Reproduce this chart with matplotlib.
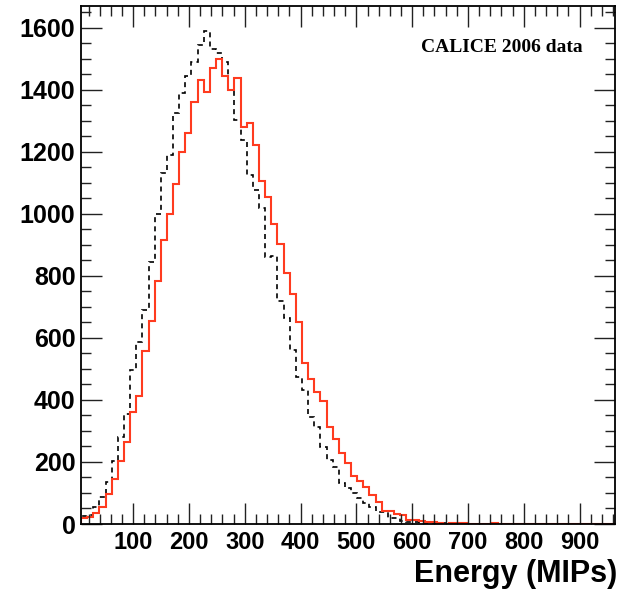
import numpy as np
import matplotlib
matplotlib.use("Agg")
import matplotlib.pyplot as plt
from matplotlib.ticker import MultipleLocator

# bin layout: 87 bins of 11 MIPs
bin_start = 6.5
bin_width = 11.0
n_bins = 87

# red solid histogram
red_counts = [18, 24, 35, 56, 96, 145, 202, 265, 360, 412,
              557, 656, 784, 916, 999, 1097, 1198, 1260, 1359, 1432,
              1394, 1470, 1499, 1445, 1400, 1438, 1280, 1293, 1223, 1106,
              1054, 968, 903, 809, 742, 651, 518, 468, 425, 398,
              314, 273, 228, 196, 156, 140, 118, 94, 70, 42,
              43, 32, 28, 12, 12, 11, 5, 5, 2, 1,
              4, 2, 4, 1, 0, 0, 1, 2]

# black dashed histogram
black_counts = [25, 30, 54, 88, 134, 204, 282, 354, 495, 588,
                690, 846, 999, 1130, 1190, 1325, 1389, 1443, 1491, 1545,
                1588, 1531, 1518, 1491, 1400, 1303, 1237, 1126, 1077, 1018,
                862, 865, 720, 663, 561, 475, 432, 344, 314, 247,
                206, 183, 131, 115, 99, 83, 67, 54, 40, 38,
                18, 18, 10, 8, 6, 4, 3, 2, 2, 2,
                1, 1]

x_ticks = [100, 200, 300, 400, 500, 600, 700, 800, 900]
x_label = "Energy (MIPs)"
note = "CALICE 2006 data"


def pad(counts):
    out = np.zeros(n_bins)
    out[:len(counts)] = counts
    return out


edges = bin_start + bin_width * np.arange(n_bins + 1)

fig = plt.figure(figsize=(6.38, 5.95), dpi=100)
ax = fig.add_axes([81 / 638, 71 / 595, 534 / 638, 518 / 595])

ax.stairs(pad(black_counts), edges, color="black", lw=1.2,
          linestyle=(0, (3, 2.5)))
ax.stairs(pad(red_counts), edges, color="#ff3b1f", lw=1.5)

ax.set_xlim(edges[0], edges[-1])
ax.set_ylim(0, 1670)

ax.xaxis.set_minor_locator(MultipleLocator(20))
ax.yaxis.set_major_locator(MultipleLocator(200))
ax.yaxis.set_minor_locator(MultipleLocator(50))

ax.tick_params(which="both", direction="in", top=True, right=True,
               width=1.0, color="#222222")
ax.tick_params(which="major", length=15)
ax.tick_params(which="minor", length=7.5)
ax.tick_params(axis="x", pad=5)
ax.tick_params(axis="y", pad=4)

ax.set_xticks(x_ticks)
ax.set_xticklabels([str(t) for t in x_ticks],
                   fontsize=17, fontweight="bold", family="Liberation Sans")
for lab in ax.get_yticklabels():
    lab.set_fontweight("bold")
    lab.set_fontfamily("Liberation Sans")
    lab.set_fontsize(18)

for sp in ax.spines.values():
    sp.set_linewidth(1.3)

fig.text(617 / 638, 21 / 595, x_label, ha="right", va="center",
         fontsize=22, fontweight="bold", family="Liberation Sans")
ax.text(0.94, 0.919, note, transform=ax.transAxes, ha="right", va="center",
        fontsize=14, fontweight="bold", family="Liberation Serif")

fig.savefig("out.png", dpi=100)
